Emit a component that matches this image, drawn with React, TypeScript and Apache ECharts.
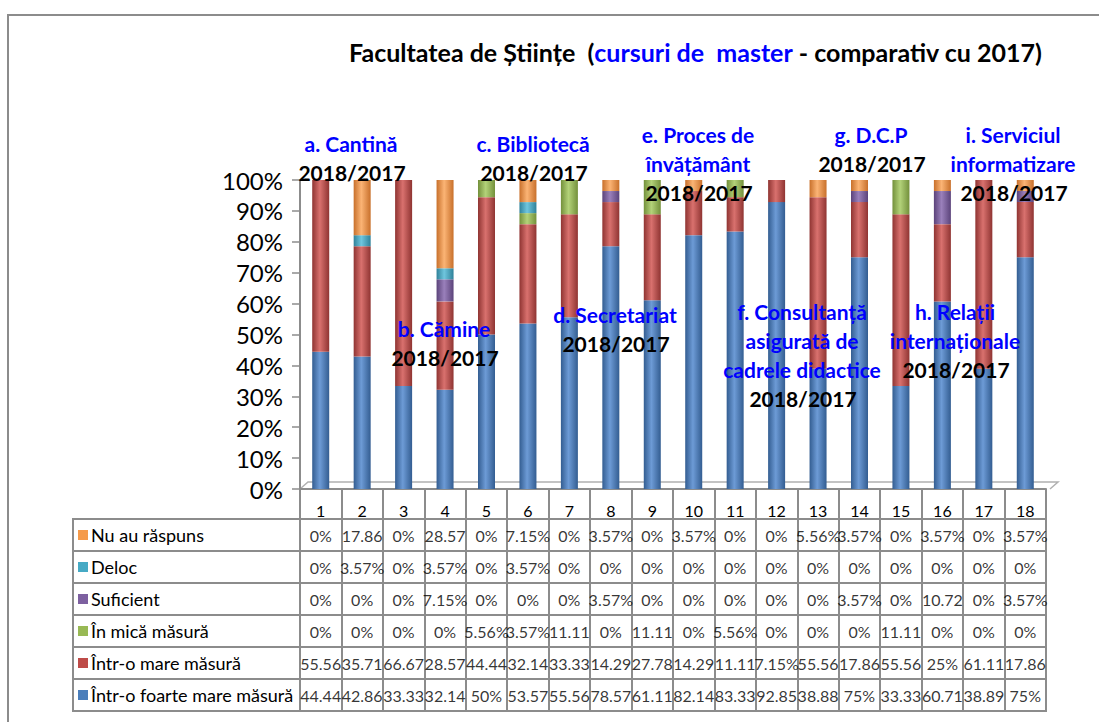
import React, { useEffect, useRef } from "react";
import * as echarts from "echarts";

const categories = ["1","2","3","4","5","6","7","8","9","10","11","12","13","14","15","16","17","18"];

// bottom to top stacking order
const seriesNames = [
  "Într-o foarte mare măsură",
  "Într-o mare măsură",
  "În mică măsură",
  "Suficient",
  "Deloc",
  "Nu au răspuns",
];
const foarteMare = [44.44,42.86,33.33,32.14,50,53.57,55.56,78.57,61.11,82.14,83.33,92.85,38.88,75,33.33,60.71,38.89,75];
const mare = [55.56,35.71,66.67,28.57,44.44,32.14,33.33,14.29,27.78,14.29,11.11,7.15,55.56,17.86,55.56,25,61.11,17.86];
const mica = [0,0,0,0,5.56,3.57,11.11,0,11.11,0,5.56,0,0,0,11.11,0,0,0];
const suficient = [0,0,0,7.15,0,0,0,3.57,0,0,0,0,0,3.57,0,10.72,0,3.57];
const deloc = [0,3.57,0,3.57,0,3.57,0,0,0,0,0,0,0,0,0,0,0,0];
const nuAuRaspuns = [0,17.86,0,28.57,0,7.15,0,3.57,0,3.57,0,0,5.56,3.57,0,3.57,0,3.57];
const seriesValues = [foarteMare, mare, mica, suficient, deloc, nuAuRaspuns];

const baseColors = ["#4a7ebb", "#be4b48", "#98b954", "#7d60a0", "#46aac5", "#f59a4a"];
const darkColors = ["#335d91", "#8f3432", "#73903b", "#5b437a", "#2f8199", "#c8702b"];
const lightColors = ["#6d9bd6", "#d9716e", "#b3d279", "#9a80bb", "#6fc6de", "#fbb475"];

const annotations = [
  { lines: ["a. Cantină"], x: 351, y: 143 },
  { lines: ["b. Cămine"], x: 444, y: 328 },
  { lines: ["c. Bibliotecă"], x: 533, y: 143 },
  { lines: ["d. Secretariat"], x: 615, y: 314 },
  { lines: ["e. Proces de", "învățământ"], x: 698, y: 134 },
  { lines: ["f. Consultanță", "asigurată de", "cadrele didactice"], x: 802, y: 311 },
  { lines: ["g. D.C.P"], x: 871, y: 134 },
  { lines: ["h. Relații", "internaționale"], x: 955, y: 311 },
  { lines: ["i. Serviciul", "informatizare"], x: 1013, y: 134 },
];
const yearLabel = "2018/2017";

const FONT = "Lato, 'Noto Sans', sans-serif";
const GRAY = "#8c8c8c";

function cellText(v: number): string {
  if (v === 0) return "0%";
  if (Number.isInteger(v)) return v + "%";
  if (v >= 10) return String(v);
  return v + "%";
}

export default function App() {
  const ref = useRef<HTMLDivElement>(null);
  useEffect(() => {
    if (!ref.current) return;
    const chart = echarts.init(ref.current, undefined, { renderer: "svg" });

    const tableRows = [...seriesNames].reverse(); // top to bottom
    const tableVals = [...seriesValues].reverse();
    const tableColorIdx = [5, 4, 3, 2, 1, 0];

    const cellData: any[] = [];
    tableVals.forEach((arr, r) => {
      arr.forEach((v, c) => cellData.push([c, r, cellText(v)]));
    });

    const rich: any = {
      t: { fontSize: 18, color: "#000", fontFamily: FONT, padding: [0, 0, 0, 3] },
    };
    tableColorIdx.forEach((ci, r) => {
      rich["s" + r] = { backgroundColor: baseColors[ci], width: 10, height: 10 };
    });

    const graphics: any[] = [
      {
        type: "rect",
        shape: { x: 8, y: 15, width: 1200, height: 800 },
        style: { fill: "none", stroke: GRAY, lineWidth: 2 },
        silent: true,
        z: -10,
      },
      {
        type: "polyline",
        shape: { points: [[300, 489], [308, 482], [1058, 482], [1050, 489]] },
        style: { fill: "none", stroke: "#b0b0b0", lineWidth: 1.5 },
        silent: true,
      },
    ];
    const lh = 29;
    annotations.forEach((a) => {
      a.lines.forEach((ln, i) => {
        graphics.push({
          type: "text",
          x: a.x,
          y: a.y + i * lh,
          z: 100,
          style: {
            text: ln,
            fill: "#0000ff",
            fontSize: 21,
            fontWeight: "bold",
            fontFamily: FONT,
            align: "center",
            verticalAlign: "middle",
          },
        });
      });
      graphics.push({
        type: "text",
        x: a.x + 1,
        y: a.y + a.lines.length * lh,
        z: 100,
        style: {
          text: yearLabel,
          fill: "#000",
          fontSize: 21,
          fontWeight: "bold",
          fontFamily: FONT,
          align: "center",
          verticalAlign: "middle",
        },
      });
    });

    const barSeries = seriesNames.map((name, i) => ({
      name,
      type: "bar",
      stack: "total",
      xAxisIndex: 0,
      yAxisIndex: 0,
      barWidth: 17,
      silent: true,
      itemStyle: {
        color: new echarts.graphic.LinearGradient(0, 0, 1, 0, [
          { offset: 0, color: darkColors[i] },
          { offset: 0.45, color: lightColors[i] },
          { offset: 1, color: darkColors[i] },
        ]),
      },
      data: seriesValues[i],
    }));

    chart.setOption({
      animation: false,
      textStyle: { fontFamily: FONT },
      title: {
        left: 344,
        top: 34,
        text: "{b|Facultatea de Științe  (}{u|cursuri de  master}{b| - comparativ cu 2017)}",
        textStyle: {
          rich: {
            b: { fontSize: 25, fontWeight: "bold", color: "#000", fontFamily: FONT },
            u: { fontSize: 25, fontWeight: "bold", color: "#0000ff", fontFamily: FONT },
          },
        },
      },
      grid: [
        { left: 300, top: 180, width: 746, height: 309 },
        { left: 73, top: 519, width: 227, height: 192, show: true, borderColor: GRAY, borderWidth: 2 },
        { left: 300, top: 519, width: 746, height: 192, show: true, borderColor: GRAY, borderWidth: 2 },
      ],
      xAxis: [
        {
          gridIndex: 0,
          type: "category",
          data: categories,
          axisLine: { lineStyle: { color: GRAY, width: 2 } },
          axisTick: { show: true, length: 30, interval: 0, lineStyle: { color: GRAY, width: 2 } },
          axisLabel: { margin: 13, fontSize: 16, color: "#000", interval: 0 },
          splitLine: { show: false },
        },
        { gridIndex: 1, type: "value", show: false, min: 0, max: 1 },
        {
          gridIndex: 2,
          type: "category",
          data: categories,
          axisLine: { show: false },
          axisTick: { show: false },
          axisLabel: { show: false },
          splitLine: { show: true, interval: 0, lineStyle: { color: GRAY, width: 2 } },
        },
      ],
      yAxis: [
        {
          gridIndex: 0,
          type: "value",
          min: 0,
          max: 100,
          interval: 10,
          axisLine: { show: true, lineStyle: { color: GRAY, width: 2 } },
          axisTick: { show: true, length: 8, lineStyle: { color: GRAY, width: 1.5 } },
          axisLabel: { formatter: "{value}%", fontSize: 24, color: "#000", margin: 17 },
          splitLine: { show: false },
        },
        {
          gridIndex: 1,
          type: "category",
          data: tableRows,
          inverse: true,
          axisLine: { show: false },
          axisTick: { show: false },
          axisLabel: {
            inside: true,
            margin: 5,
            interval: 0,
            formatter: (val: string, idx: number) => `{s${idx}|}{t|${val}}`,
            rich,
          },
          splitLine: { show: true, interval: 0, lineStyle: { color: GRAY, width: 2 } },
        },
        {
          gridIndex: 2,
          type: "category",
          data: tableRows,
          inverse: true,
          axisLine: { show: false },
          axisTick: { show: false },
          axisLabel: { show: false },
          splitLine: { show: true, interval: 0, lineStyle: { color: GRAY, width: 2 } },
        },
      ],
      series: [
        ...barSeries,
        {
          type: "scatter",
          xAxisIndex: 2,
          yAxisIndex: 2,
          symbolSize: 1,
          silent: true,
          itemStyle: { color: "rgba(0,0,0,0)" },
          label: {
            show: true,
            position: "inside",
            formatter: (p: any) => p.value[2],
            fontSize: 16,
            color: "#000",
            fontFamily: FONT,
          },
          data: cellData,
        },
      ],
      graphic: graphics,
    });

    return () => chart.dispose();
  }, []);

  return (
    <div
      ref={ref}
      style={{ position: "fixed", left: 0, top: 0, width: 1099, height: 722, background: "#fff" }}
    />
  );
}
